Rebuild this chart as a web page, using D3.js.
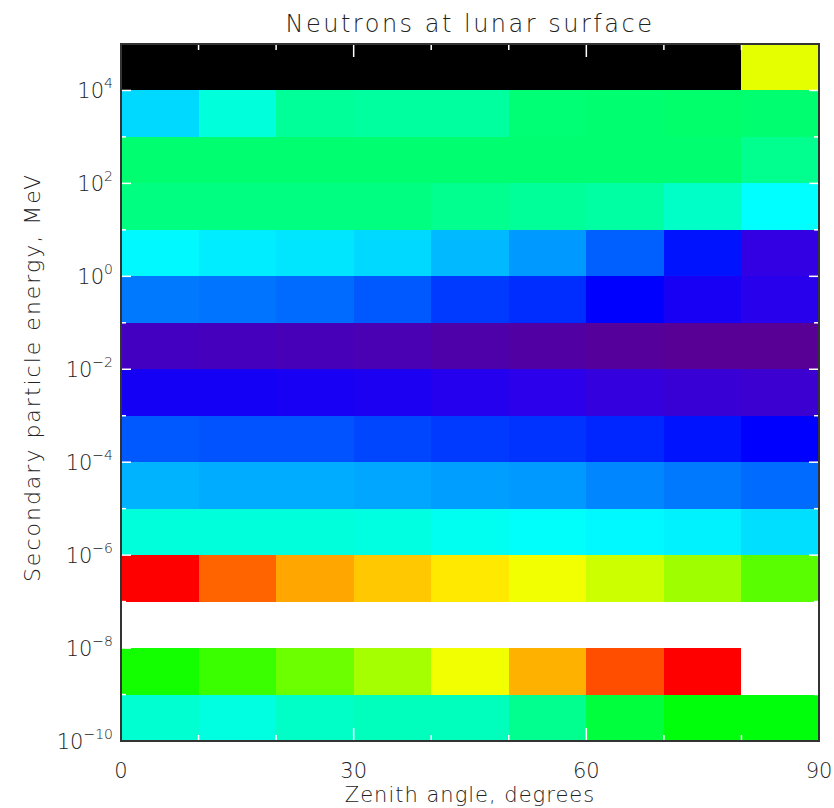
<!DOCTYPE html>
<html>
<head>
<meta charset="utf-8">
<script src="https://cdn.jsdelivr.net/npm/d3@7"></script>
<style>
  body { margin: 0; background: #fff; }
  text { font-family: "DejaVu Sans", sans-serif; font-weight: 200; fill: #222; }
</style>
</head>
<body>
<svg id="svg"></svg>
<script>
const width = 834, height = 808;

// zenith angle bins (degrees, lower edges), 10 deg wide
const zenithBins = [0, 10, 20, 30, 40, 50, 60, 70, 80];
// energy bins: lower edge exponent (MeV), one decade each, top row first
const energyExp = [4, 3, 2, 1, 0, -1, -2, -3, -4, -5, -6, -7, -8, -9, -10];
const levels = [
  [0, 0, 0, 0, 0, 0, 0, 0, 186],
  [94, 107, 120, 119, 119, 127, 128, 129, 128],
  [128, 128, 128, 128, 128, 128, 128, 128, 122],
  [125, 125, 125, 125, 122, 120, 118, 111, 100],
  [99, 97, 96, 94, 89, 84, 75, 63, 47],
  [79, 78, 77, 74, 69, 67, 60, 54, 50],
  [40, 39, 38, 37, 35, 34, 32, 31, 31],
  [55, 55, 54, 53, 51, 49, 46, 44, 43],
  [74, 73, 73, 71, 69, 68, 66, 63, 60],
  [88, 87, 87, 86, 85, 84, 81, 79, 77],
  [107, 107, 107, 106, 103, 101, 99, 98, 95],
  [236, 218, 206, 200, 194, 188, 182, 175, 164],
  [255, 255, 255, 255, 255, 255, 255, 255, 255],
  [153, 159, 167, 176, 188, 204, 222, 236, 255],
  [109, 106, 111, 113, 113, 122, 138, 148, 148]
];
const xTickLabels = [0, 30, 60, 90];
const yTickLabelExp = [-10, -8, -6, -4, -2, 0, 2, 4];

// "rainbow + white" colour table
const stopIdx = [0, 30, 48, 60, 100, 150, 190, 236, 254, 255];
const stopCol = ["#000000", "#5a0091", "#3000e8", "#0000ff", "#00ffff",
                 "#00ff00", "#ffff00", "#ff0000", "#ff0000", "#ffffff"];
const color = d3.scaleLinear().domain(stopIdx).range(stopCol).interpolate(d3.interpolateRgb);

const plot = {left: 121, top: 44, right: 819, bottom: 741};

const x = d3.scaleLinear().domain([0, 90]).range([plot.left, plot.right]);
const y = d3.scaleLog().domain([1e-10, 1e5]).range([plot.bottom, plot.top]);

const svg = d3.select("#svg").attr("width", width).attr("height", height);

const cells = [];
energyExp.forEach((e, i) => {
  zenithBins.forEach((z, j) => {
    cells.push({z, e, v: levels[i][j]});
  });
});

svg.append("g")
  .attr("shape-rendering", "crispEdges")
  .selectAll("rect")
  .data(cells)
  .join("rect")
  .attr("x", d => x(d.z))
  .attr("width", d => x(d.z + 10) - x(d.z))
  .attr("y", d => y(Math.pow(10, d.e + 1)))
  .attr("height", d => y(Math.pow(10, d.e)) - y(Math.pow(10, d.e + 1)))
  .attr("fill", d => color(d.v));

// inside ticks (white)
const ticks = svg.append("g").attr("stroke", "#fff").attr("stroke-width", 1.5);
const xt = d3.range(0, 91, 10);
xt.forEach(v => {
  const len = v % 30 === 0 ? 13 : 6;
  ticks.append("line").attr("x1", x(v)).attr("x2", x(v)).attr("y1", plot.bottom).attr("y2", plot.bottom - len);
  ticks.append("line").attr("x1", x(v)).attr("x2", x(v)).attr("y1", plot.top).attr("y2", plot.top + len);
});
d3.range(-10, 6).forEach(e => {
  const len = e % 2 === 0 ? 10 : 5;
  const yy = y(Math.pow(10, e));
  ticks.append("line").attr("x1", plot.left).attr("x2", plot.left + len).attr("y1", yy).attr("y2", yy);
  ticks.append("line").attr("x1", plot.right).attr("x2", plot.right - len).attr("y1", yy).attr("y2", yy);
});

svg.append("rect")
  .attr("x", plot.left).attr("y", plot.top)
  .attr("width", plot.right - plot.left).attr("height", plot.bottom - plot.top)
  .attr("fill", "none").attr("stroke", "#333").attr("stroke-width", 2);

// tick labels
svg.append("g").selectAll("text")
  .data(xTickLabels)
  .join("text")
  .attr("x", d => x(d))
  .attr("y", 778)
  .attr("text-anchor", "middle")
  .attr("font-size", 21)
  .text(d => d);

const yl = svg.append("g").selectAll("text")
  .data(yTickLabelExp)
  .join("text")
  .attr("x", plot.left - 8)
  .attr("y", d => y(Math.pow(10, d)) + 8)
  .attr("text-anchor", "end")
  .attr("font-size", 21);
yl.append("tspan").text("10");
yl.append("tspan").attr("dy", -10).attr("font-size", 14).text(d => d < 0 ? "\u2212" + (-d) : d);

svg.append("text")
  .attr("x", (plot.left + plot.right) / 2).attr("y", 32)
  .attr("text-anchor", "middle").attr("font-size", 24)
  .attr("letter-spacing", 2.5)
  .text("Neutrons at lunar surface");

svg.append("text")
  .attr("x", (plot.left + plot.right) / 2).attr("y", 802)
  .attr("text-anchor", "middle").attr("font-size", 21)
  .attr("letter-spacing", 1)
  .text("Zenith angle, degrees");

svg.append("text")
  .attr("transform", `translate(40, ${(plot.top + plot.bottom) / 2 - 15}) rotate(-90)`)
  .attr("text-anchor", "middle").attr("font-size", 22)
  .attr("letter-spacing", 2)
  .text("Secondary particle energy, MeV");
</script>
</body>
</html>
